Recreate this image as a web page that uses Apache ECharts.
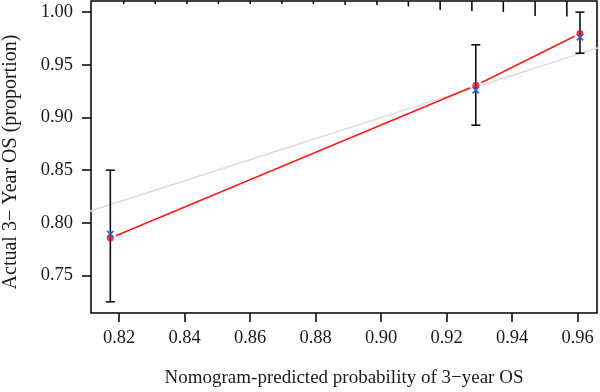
<!DOCTYPE html>
<html>
<head>
<meta charset="utf-8">
<script src="https://cdn.jsdelivr.net/npm/echarts@6/dist/echarts.min.js"></script>
<style>
html,body{margin:0;padding:0;background:#fff;}
#chart{width:600px;height:392px;}
</style>
</head>
<body>
<div id="chart"></div>
<script>
// Data
var predicted = [0.8173, 0.9289, 0.9607];      // nomogram-predicted probability
var observed  = [0.7855, 0.9305, 0.9797];      // actual (red dots)
var corrected = [0.7893, 0.9260, 0.9762];      // bias-corrected (blue x)
var lowerCI   = [0.725, 0.8927, 0.961];
var upperCI   = [0.850, 0.969, 1.000];
var xTicks = [0.82, 0.84, 0.86, 0.88, 0.90, 0.92, 0.94, 0.96];
var yTicks = [0.75, 0.80, 0.85, 0.90, 0.95, 1.00];
// distribution of predicted risk (spike histogram at top)
var riskX    = [0.8214, 0.8310, 0.8407, 0.8503, 0.8600, 0.8697, 0.8793, 0.8890, 0.8987, 0.9083, 0.9180, 0.9277, 0.9373, 0.9470, 0.9567];
var riskFreq = [3, 3, 3, 3, 3, 3, 3, 4, 4, 5.5, 9, 10, 11, 15, 15.5];

var X_MIN = 0.8114, X_MAX = 0.9659, Y_MIN = 0.7144, Y_MAX = 1.0106;

var chart = echarts.init(document.getElementById('chart'), null, {renderer: 'canvas'});
var font = 'Liberation Serif';

function pairs(a, b) { return a.map(function (v, i) { return [v, b[i]]; }); }

var option = {
  animation: false,
  backgroundColor: '#ffffff',
  grid: {left: 91, right: 3, top: 1, bottom: 79, show: true, borderColor: '#000', borderWidth: 1.5,
    backgroundColor: 'transparent', outerBoundsMode: 'none', containLabel: false},
  xAxis: {
    type: 'value', min: X_MIN, max: X_MAX,
    name: 'Nomogram-predicted probability of 3\u2212year OS',
    nameLocation: 'middle', nameGap: 56,
    nameTextStyle: {fontFamily: font, fontSize: 19, color: '#1a1a1a'},
    axisLine: {show: false},
    splitLine: {show: false},
    axisTick: {show: true, length: 9, lineStyle: {color: '#000', width: 1.5}, customValues: xTicks},
    axisLabel: {customValues: xTicks, margin: 16, fontFamily: font, fontSize: 18.5, color: '#1a1a1a',
      formatter: function (v) { return v.toFixed(2); }}
  },
  yAxis: {
    type: 'value', min: Y_MIN, max: Y_MAX,
    name: 'Actual 3\u2212 Year OS (proportion)',
    nameLocation: 'middle', nameGap: 70, nameRotate: 90,
    nameTextStyle: {fontFamily: font, fontSize: 20, color: '#1a1a1a', padding: [0, 10, 0, 0]},
    axisLine: {show: false},
    splitLine: {show: false},
    axisTick: {show: true, length: 9, lineStyle: {color: '#000', width: 1.5}, customValues: yTicks},
    axisLabel: {customValues: yTicks, margin: 18, fontFamily: font, fontSize: 18.5, color: '#1a1a1a',
      formatter: function (v) { return v.toFixed(2); }}
  },
  series: [
    { // ideal line y = x
      type: 'line', data: [[0.70, 0.70], [1.02, 1.02]], clip: true, symbol: 'none', silent: true,
      lineStyle: {color: '#dcdcdc', width: 1.5}, z: 1
    },
    { // spike histogram at top
      type: 'custom', data: pairs(riskX, riskFreq), clip: true, z: 2,
      renderItem: function (params, api) {
        var p = api.coord([api.value(0), Y_MAX]);
        var len = api.value(1);
        return {type: 'line', shape: {x1: p[0], y1: p[1], x2: p[0], y2: p[1] + len},
          style: {stroke: '#000', lineWidth: 1.5}};
      }
    },
    { // red line with gaps around points
      type: 'custom', data: predicted.map(function (v, i) { return [v, observed[i], predicted[i + 1], observed[i + 1]]; }).slice(0, predicted.length - 1), z: 3,
      renderItem: function (params, api) {
        var a = api.coord([api.value(0), api.value(1)]);
        var b = api.coord([api.value(2), api.value(3)]);
        var dx = b[0] - a[0], dy = b[1] - a[1], L = Math.sqrt(dx * dx + dy * dy), g = 6;
        return {type: 'line', shape: {x1: a[0] + dx / L * g, y1: a[1] + dy / L * g, x2: b[0] - dx / L * g, y2: b[1] - dy / L * g},
          style: {stroke: '#ff1a1a', lineWidth: 1.6}};
      }
    },
    { // error bars
      type: 'custom', data: predicted.map(function (v, i) { return [v, lowerCI[i], upperCI[i]]; }), z: 4, clip: false,
      renderItem: function (params, api) {
        var lo = api.coord([api.value(0), api.value(1)]);
        var hi = api.coord([api.value(0), api.value(2)]);
        var w = 4.5, st = {stroke: '#111', lineWidth: 1.6};
        return {type: 'group', children: [
          {type: 'line', shape: {x1: lo[0], y1: lo[1], x2: hi[0], y2: hi[1]}, style: st},
          {type: 'line', shape: {x1: lo[0] - w, y1: lo[1], x2: lo[0] + w, y2: lo[1]}, style: st},
          {type: 'line', shape: {x1: hi[0] - w, y1: hi[1], x2: hi[0] + w, y2: hi[1]}, style: st}
        ]};
      }
    },
    { // red dots
      type: 'scatter', data: pairs(predicted, observed), symbol: 'circle', symbolSize: 7, z: 5,
      itemStyle: {color: '#e0101a'}
    },
    { // blue x markers
      type: 'custom', data: pairs(predicted, corrected), z: 6,
      renderItem: function (params, api) {
        var p = api.coord([api.value(0), api.value(1)]);
        var s = 3.2, st = {stroke: '#3a5fcd', lineWidth: 1.6};
        return {type: 'group', children: [
          {type: 'line', shape: {x1: p[0] - s, y1: p[1] - s, x2: p[0] + s, y2: p[1] + s}, style: st},
          {type: 'line', shape: {x1: p[0] - s, y1: p[1] + s, x2: p[0] + s, y2: p[1] - s}, style: st}
        ]};
      }
    }
  ]
};
chart.setOption(option);
</script>
</body>
</html>
